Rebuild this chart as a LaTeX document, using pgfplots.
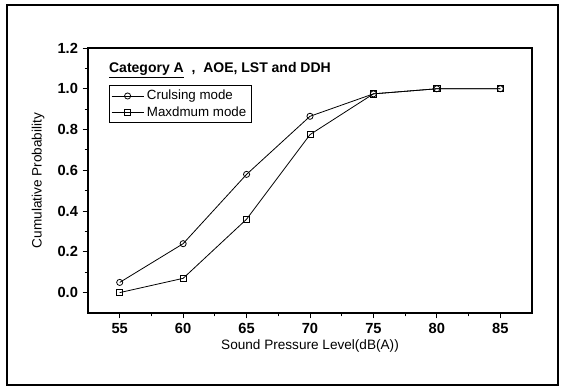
\documentclass[border=0pt]{standalone}
\usepackage{pgfplots}
\pgfplotsset{compat=1.18}
\usepackage{fontspec}
\setmainfont{Liberation Sans}
\begin{document}
\begin{tikzpicture}[x=0.75pt,y=0.75pt]
\path[use as bounding box] (0,0) rectangle (565,388);
\draw[line width=0.9pt] (7,3) rectangle (558,383);
\begin{axis}[
  at={(66pt,56.25pt)}, anchor=south west,
  scale only axis, width=333pt, height=198.75pt,
  xmin=52.5, xmax=87.5, ymin=-0.1, ymax=1.2,
  xtick={55,60,...,85}, ytick={0,0.2,...,1.2},
  minor x tick num=1, minor y tick num=1,
  tick pos=left, tick align=outside,
  major tick length=4pt, minor tick length=2.5pt,
  axis line style={line width=0.9pt},
  every tick/.style={black, line width=0.7pt},
  yticklabel style={/pgf/number format/.cd, fixed, fixed zerofill, precision=1},
  /pgf/number format/assume math mode=true,
  ticklabel style={font=\bfseries\fontsize{11}{12}\selectfont},
  xlabel={Sound Pressure Level(dB(A))},
  ylabel={Cumulative Probability},
  label style={font=\fontsize{10.2}{12}\selectfont},
  xlabel style={yshift=2pt},
  ylabel style={yshift=3pt},
  legend style={at={(0.047,0.86)}, anchor=north west, draw=black, line width=0.6pt,
    font=\fontsize{10}{12}\selectfont, inner sep=1.5pt, row sep=-0.5pt},
  legend cell align=left,
  legend image code/.code={
    \draw[#1] (0cm,0cm) -- (0.85cm,0cm);
    \draw[#1, only marks] plot coordinates {(0.42cm,0cm)};},
  every axis plot/.append style={black, line width=0.6pt},
]
\addplot[mark=o, mark size=2.3pt, mark options={solid, fill=white}] coordinates {
 (55,0.05) (60,0.24) (65,0.58) (70,0.865) (75,0.975) (80,1.0) (85,1.0)};
\addlegendentry{Crulsing mode}
\addplot[mark=square, mark size=2.3pt, mark options={solid, fill=white}] coordinates {
 (55,0.0) (60,0.07) (65,0.36) (70,0.775) (75,0.975) (80,1.0) (85,1.0)};
\addlegendentry{Maxdmum mode}
\node[anchor=west, font=\bfseries\fontsize{10.5}{12}\selectfont, inner sep=0pt] at (rel axis cs:0.047,0.915)
  {\underline{Category A}\ \ ,\ \ AOE, LST and DDH};
\end{axis}
\end{tikzpicture}
\end{document}
